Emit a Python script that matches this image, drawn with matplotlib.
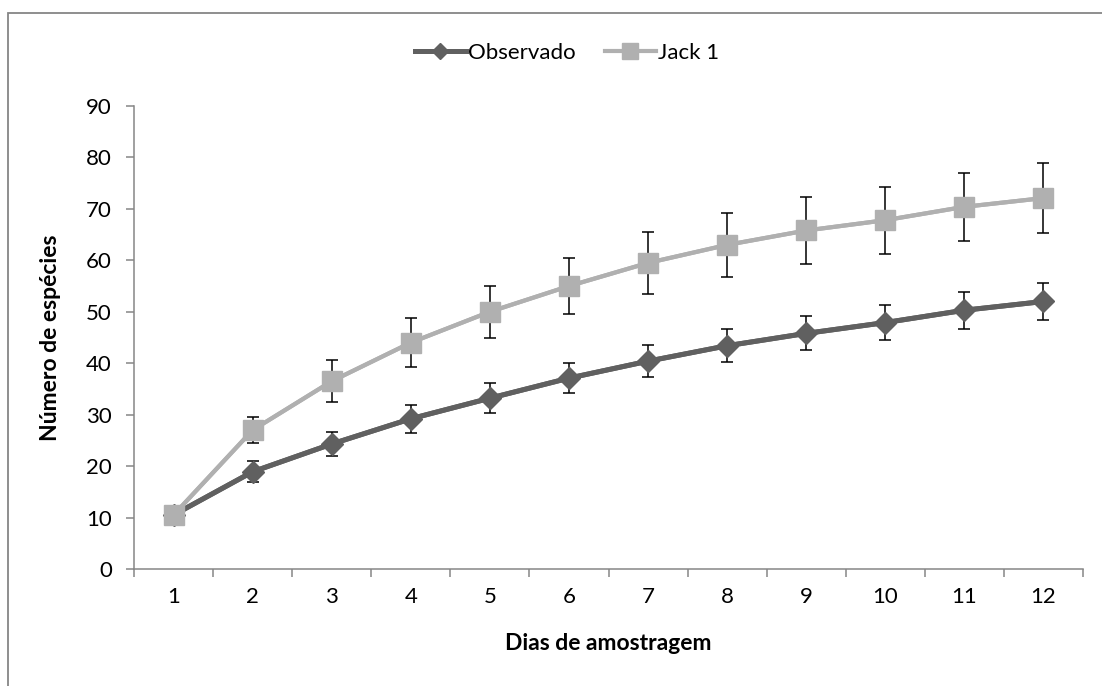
import numpy as np
import matplotlib
matplotlib.use('Agg')
import matplotlib.pyplot as plt
from matplotlib.patches import Rectangle

# data
dias = [1, 2, 3, 4, 5, 6, 7, 8, 9, 10, 11, 12]
observado = [10.5, 18.9, 24.3, 29.2, 33.2, 37.1, 40.4, 43.4, 45.8, 47.9, 50.3, 52.0]
e_observado = [0.5, 2.0, 2.3, 2.7, 2.9, 2.9, 3.1, 3.2, 3.3, 3.4, 3.6, 3.6]
jack1 = [10.5, 27.0, 36.5, 44.0, 50.0, 55.0, 59.5, 63.0, 65.8, 67.8, 70.4, 72.1]
e_jack1 = [1.5, 2.6, 4.1, 4.8, 5.0, 5.4, 6.0, 6.2, 6.5, 6.5, 6.6, 6.8]

c_obs = '#606060'
c_jack = '#b0b0b0'
c_axis = '#868686'

plt.rcParams['font.family'] = ['Lato', 'DejaVu Sans']
plt.rcParams['font.size'] = 16

fig = plt.figure(figsize=(11.02, 6.86), dpi=100)
ax = fig.add_axes([134/1102, 117/686, 949/1102, 463/686])

# outer chart border (only left/top visible in the reference)
fig.patches.append(Rectangle((8/1102, -0.1), 1.2, (686-13)/686 + 0.1,
                             transform=fig.transFigure, fill=False,
                             edgecolor=c_axis, lw=1.3))

# lines first, error bars, then markers on top (excel style)
for y, e, c, m, ms, lw, lab in [(observado, e_observado, c_obs, 'D', 11.5, 3.6, 'Observado'),
                                 (jack1, e_jack1, c_jack, 's', 14.5, 3.0, 'Jack 1')]:
    ax.plot(dias, y, color=c, lw=lw, zorder=2)
    ax.errorbar(dias, y, yerr=e, fmt='none', ecolor='black', elinewidth=1.1,
                capsize=4.5, capthick=1.1, zorder=3)
    ax.plot(dias, y, color=c, lw=lw, marker=m, markersize=ms, zorder=4, label=lab)

ax.set_xlim(0.5, 12.5)
ax.set_ylim(0, 90)
ax.set_yticks(np.arange(0, 91, 10))
ax.set_xticks(np.arange(0.5, 13, 1))
ax.set_xticklabels([])
ax.set_xticks(dias, minor=True)
ax.set_xticklabels([str(d) for d in dias], minor=True)
ax.tick_params(axis='x', which='minor', length=0, pad=13)
ax.tick_params(axis='x', which='major', length=6, width=1.1, color=c_axis)
ax.tick_params(axis='y', length=6, width=1.1, color=c_axis, pad=10)

for s in ['top', 'right']:
    ax.spines[s].set_visible(False)
for s in ['left', 'bottom']:
    ax.spines[s].set_color(c_axis)
    ax.spines[s].set_linewidth(1.1)

ax.set_xlabel('Dias de amostragem', fontweight='bold', fontsize=16.5, labelpad=19)
ax.set_ylabel('Número de espécies', fontweight='bold', fontsize=16.5, labelpad=18)

fig.legend(loc='center', bbox_to_anchor=(567/1102, (686-53)/686), ncol=2,
           frameon=False, handlelength=2.3, columnspacing=1.3, handletextpad=0.1,
           markerscale=0.75)

plt.savefig('out.png', dpi=100)
